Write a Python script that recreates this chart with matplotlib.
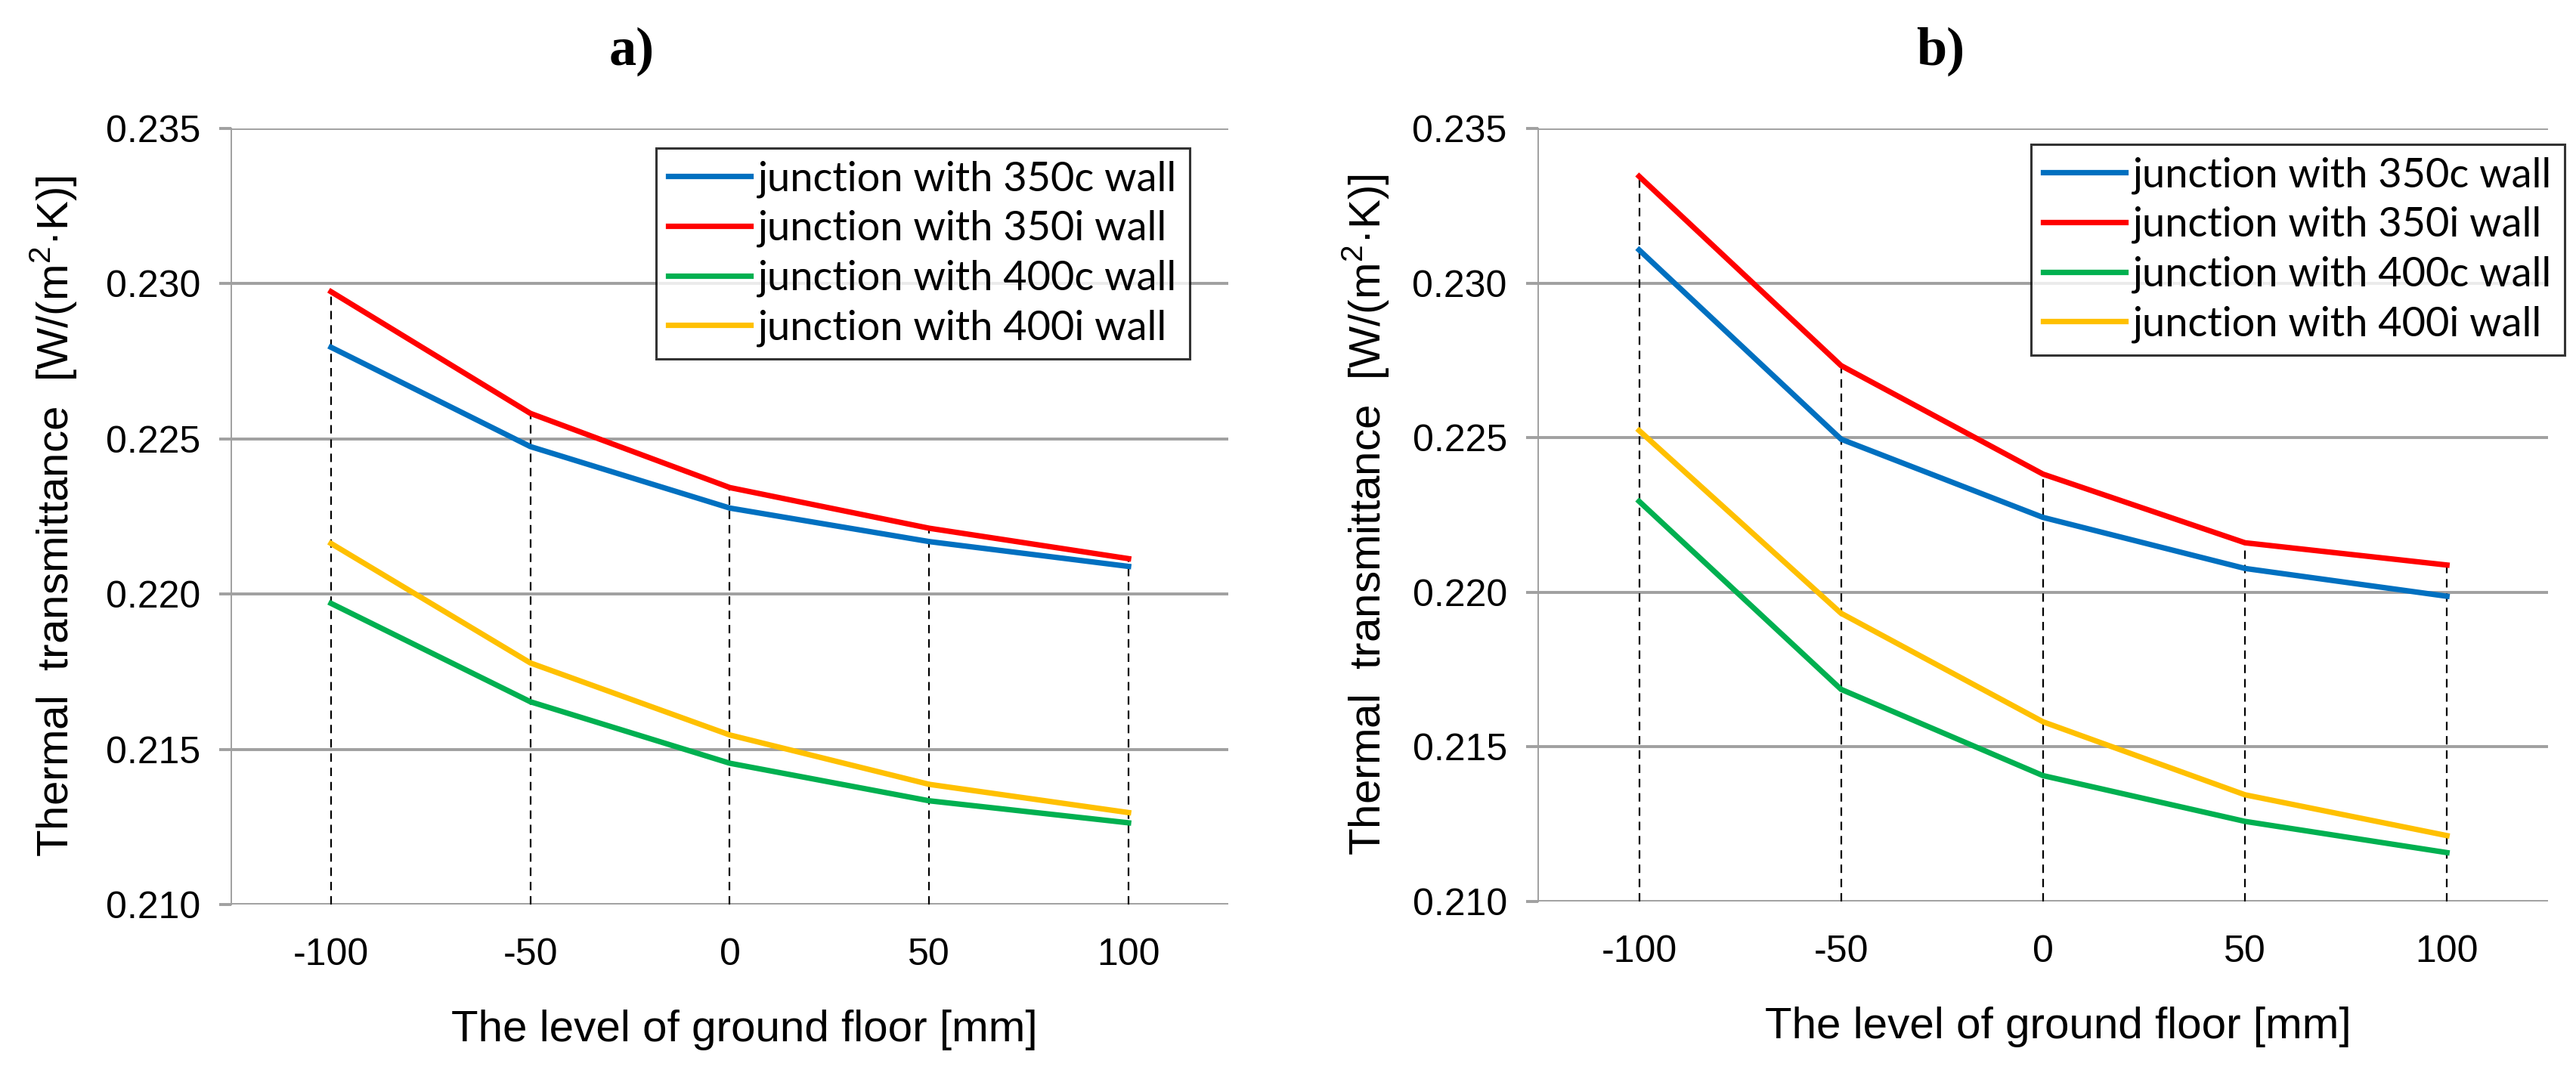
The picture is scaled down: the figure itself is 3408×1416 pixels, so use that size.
import matplotlib
matplotlib.use("Agg")
import matplotlib.pyplot as plt
from matplotlib import font_manager

# ---------------- data ----------------
levels = [-100, -50, 0, 50, 100]
series_names = ["junction with 350c wall", "junction with 350i wall",
                "junction with 400c wall", "junction with 400i wall"]
colors = ["#0070C0", "#FF0000", "#00B050", "#FFC000"]

a_350c = [0.22795, 0.22475, 0.22277, 0.22169, 0.22089]
a_350i = [0.22974, 0.22582, 0.22343, 0.22212, 0.22114]
a_400c = [0.21970, 0.21653, 0.21455, 0.21334, 0.21263]
a_400i = [0.22163, 0.21778, 0.21546, 0.21387, 0.21296]

b_350c = [0.23107, 0.22495, 0.22242, 0.22077, 0.21987]
b_350i = [0.23345, 0.22733, 0.22382, 0.22160, 0.22088]
b_400c = [0.22294, 0.21686, 0.21407, 0.21259, 0.21158]
b_400i = [0.22523, 0.21932, 0.21581, 0.21345, 0.21213]

y_ticks = [0.210, 0.215, 0.220, 0.225, 0.230, 0.235]
y_tick_labels = ["0.210", "0.215", "0.220", "0.225", "0.230", "0.235"]
x_tick_labels = ["-100", "-50", "0", "50", "100"]
panel_titles = ["a)", "b)"]
xlabel = "The level of ground floor [mm]"
ylabel = "Thermal  transmittance  [W/(m$^2$·K)]"

# ---------------- fonts ----------------
names = {f.name for f in font_manager.fontManager.ttflist}
sans = "Liberation Sans" if "Liberation Sans" in names else "DejaVu Sans"
legfont = "Lato" if "Lato" in names else sans
serif = "Liberation Serif" if "Liberation Serif" in names else "DejaVu Serif"
plt.rcParams["font.family"] = [sans, "DejaVu Sans"]
plt.rcParams["mathtext.fontset"] = "custom"
plt.rcParams["mathtext.rm"] = sans

fig = plt.figure(figsize=(17.04, 7.08), dpi=200)
positions = [[0.0898, 0.1547, 0.3870, 0.7253],
             [0.5971, 0.1575, 0.3920, 0.7225]]
legend_anchor = [(0.9613, 0.9747), (1.0165, 0.9796)]
ylabel_x = [-0.178, -0.170]
title_x = [0.2453, 0.7532]

panels = [[a_350c, a_350i, a_400c, a_400i],
          [b_350c, b_350i, b_400c, b_400i]]

for i, data in enumerate(panels):
    ax = fig.add_axes(positions[i])
    ax.set_xlim(-125, 125)
    ax.set_ylim(0.210, 0.235)
    ax.set_yticks(y_ticks)
    ax.set_yticklabels(y_tick_labels)
    ax.yaxis.grid(True, color="#A0A0A0", linewidth=1.4)
    ax.set_axisbelow(True)
    ax.set_xticks(levels)
    ax.set_xticklabels(x_tick_labels)
    ax.tick_params(axis="y", direction="out", length=5.8, width=1.4,
                   color="#A0A0A0", pad=9, labelsize=18)
    ax.tick_params(axis="x", length=0, pad=16, labelsize=18)
    for s in ["top", "right", "bottom"]:
        ax.spines[s].set_visible(False)
    ax.spines["left"].set_color("#A0A0A0")
    ax.spines["left"].set_linewidth(0.7)

    # drop lines
    tops = [max(vals) for vals in zip(*data)]
    ax.vlines(levels, 0.210, tops, colors="black", linestyles=(0, (5, 3.5)),
              linewidth=0.8, zorder=2)

    for vals, name, c in zip(data, series_names, colors):
        ax.plot(levels, vals, color=c, linewidth=2.6, label=name, zorder=3,
                solid_joinstyle="miter")

    leg = ax.legend(loc="upper right", bbox_to_anchor=legend_anchor[i],
                    frameon=True, fancybox=False, edgecolor="black",
                    prop={"family": legfont, "size": 19.5},
                    handlelength=2.0, handletextpad=0.2, labelspacing=0.3,
                    borderpad=0.3, borderaxespad=0.0)
    leg.get_frame().set_linewidth(1.1)

    ax.set_xlabel(xlabel, fontsize=21)
    ax.xaxis.set_label_coords(0.515, -0.162)
    ax.xaxis.label.set_va("center")
    ax.set_ylabel(ylabel, fontsize=21)
    ax.yaxis.set_label_coords(ylabel_x[i], 0.5)
    ax.yaxis.label.set_va("center")

    fig.text(title_x[i], 0.952, panel_titles[i], ha="center", va="center",
             fontsize=26, fontweight="bold", family=serif)

fig.savefig("out.png", dpi=200)
